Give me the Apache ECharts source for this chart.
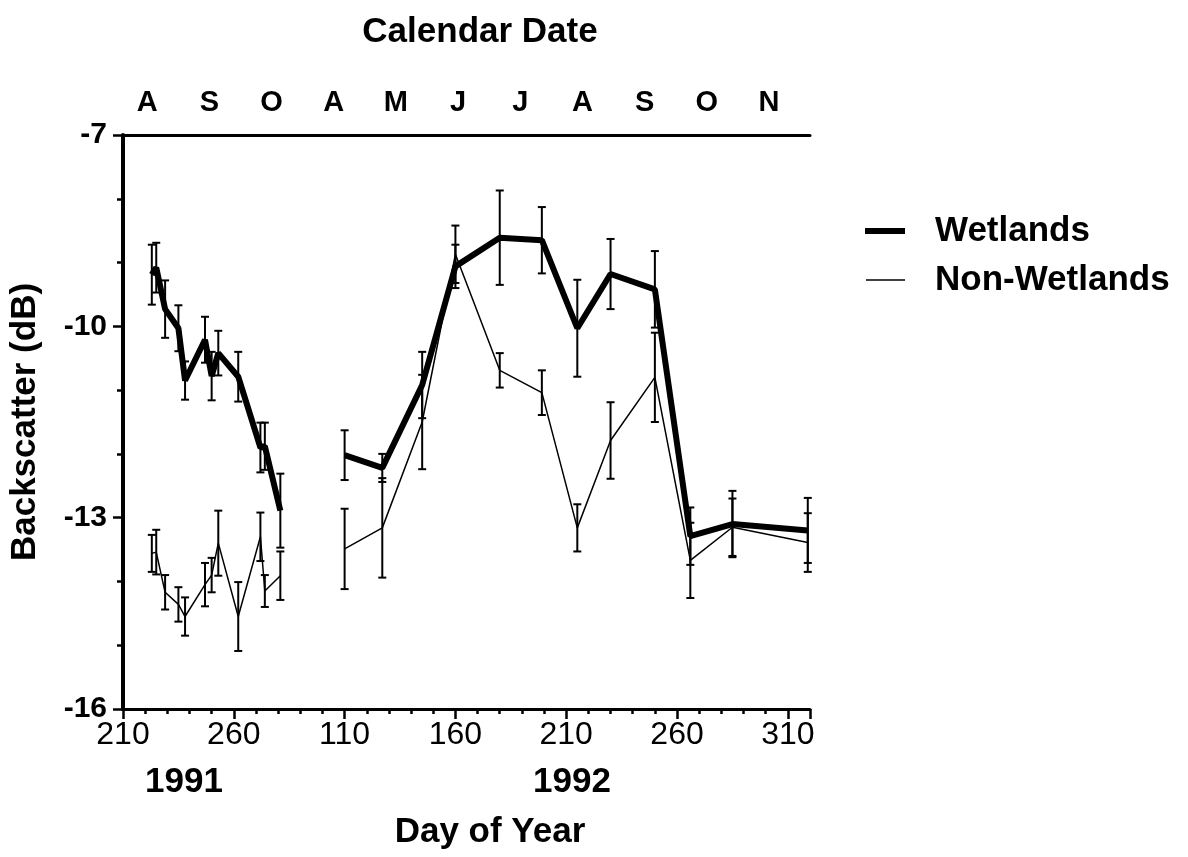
<!DOCTYPE html>
<html>
<head>
<meta charset="utf-8">
<script src="https://cdn.jsdelivr.net/npm/echarts@6/dist/echarts.min.js"></script>
<style>html,body{margin:0;padding:0;background:#fff}#c{width:1188px;height:857px}</style>
</head>
<body>
<div id="c"></div>
<script>
// ---- data ----
const days1991 = [223, 225, 229, 235, 238, 247, 250, 253, 262, 272, 274, 281];
const wet1991 = [-9.19, -9.08, -9.73, -10.03, -10.85, -10.21, -10.78, -10.42, -10.79, -11.90, -11.88, -12.89];
const wetErr1991 = [0.47, 0.39, 0.45, 0.36, 0.30, 0.36, 0.38, 0.35, 0.39, 0.39, 0.37, 0.58];
const non1991 = [-13.56, -13.54, -14.17, -14.36, -14.55, -14.05, -13.90, -13.40, -14.55, -13.30, -14.15, -13.91];
const nonErr1991 = [0.29, 0.35, 0.27, 0.27, 0.30, 0.34, 0.27, 0.51, 0.54, 0.38, 0.25, 0.38];

const days1992 = [110, 127, 145, 160, 180, 199, 215, 230, 250, 266, 285, 319];
const wet1992 = [-12.02, -12.22, -10.92, -9.06, -8.61, -8.65, -10.03, -9.18, -9.42, -13.29, -13.10, -13.20];
const wetErr1992 = [0.39, 0.22, 0.52, 0.34, 0.74, 0.52, 0.76, 0.55, 0.60, 0.45, 0.52, 0.51];
const non1992 = [-13.49, -13.16, -11.50, -8.87, -10.69, -11.04, -13.16, -11.79, -10.80, -13.67, -13.15, -13.39];
const nonErr1992 = [0.63, 0.78, 0.74, 0.45, 0.27, 0.35, 0.37, 0.60, 0.70, 0.59, 0.45, 0.46];

const monthLabels = ['A', 'S', 'O', 'A', 'M', 'J', 'J', 'A', 'S', 'O', 'N'];
const yMin = -16, yMax = -7, yStep = 3;
// continuous day axis: 1991 day d -> d-210 ; 1992 day d -> d-10 (1992 day 110 sits where 1991 day 310 would)
const OFF91 = -210, OFF92 = -10;

const toX = (d, off) => d + off;
const toY = v => v - yMin;
function linePts(days, vals, off) { return days.map((d, i) => [toX(d, off), toY(vals[i])]); }
function errPts(days, vals, errs, off) { return days.map((d, i) => [toX(d, off), toY(vals[i] - errs[i]), toY(vals[i] + errs[i])]); }

function errSeries(data, lw) {
  return {
    type: 'custom', silent: true, z: 2,
    data: data,
    encode: { x: 0, y: [1, 2] },
    renderItem: function (params, api) {
      const x = api.value(0), lo = api.value(1), hi = api.value(2);
      const p1 = api.coord([x, lo]), p2 = api.coord([x, hi]);
      const w = 4;
      const st = { stroke: '#000', lineWidth: lw };
      return {
        type: 'group', children: [
          { type: 'line', shape: { x1: p1[0], y1: p1[1], x2: p2[0], y2: p2[1] }, style: st },
          { type: 'line', shape: { x1: p1[0] - w, y1: p1[1], x2: p1[0] + w, y2: p1[1] }, style: st },
          { type: 'line', shape: { x1: p2[0] - w, y1: p2[1], x2: p2[0] + w, y2: p2[1] }, style: st }
        ]
      };
    }
  };
}
function lineSeries(name, data, width) {
  return {
    type: 'line', name: name, data: data, showSymbol: false, symbol: 'none',
    lineStyle: { color: '#000', width: width }, itemStyle: { color: '#000' }, z: 3
  };
}

const FONT = "'Liberation Sans', Arial, Helvetica, sans-serif";
const NARROW = "'Liberation Sans Narrow', 'Liberation Sans', Arial, sans-serif";

const chart = echarts.init(document.getElementById('c'), null, { renderer: 'canvas' });
chart.setOption({
  animation: false,
  backgroundColor: '#fff',
  title: [
    { text: 'Calendar Date', left: 475, top: 10, textAlign: 'center', textStyle: { fontFamily: FONT, fontSize: 35, fontWeight: 'bold', color: '#000' } },
    { text: 'Day of Year', left: 485, top: 810, textAlign: 'center', textStyle: { fontFamily: FONT, fontSize: 35, fontWeight: 'bold', color: '#000' } },
    { text: '1991', left: 179, top: 760, textAlign: 'center', textStyle: { fontFamily: FONT, fontSize: 35, fontWeight: 'bold', color: '#000' } },
    { text: '1992', left: 567, top: 760, textAlign: 'center', textStyle: { fontFamily: FONT, fontSize: 35, fontWeight: 'bold', color: '#000' } }
  ],
  legend: [
    { data: ['Wetlands'], left: 865, top: 211, padding: 0, icon: 'rect', itemWidth: 40, itemHeight: 6, selectedMode: false,
      textStyle: { fontFamily: FONT, fontSize: 35, fontWeight: 'bold', color: '#000', lineHeight: 40, padding: [0, 0, 0, 25] } },
    { data: ['Non-Wetlands'], left: 866, top: 260, padding: 0, icon: 'rect', itemWidth: 39, itemHeight: 1.5, selectedMode: false,
      textStyle: { fontFamily: FONT, fontSize: 35, fontWeight: 'bold', color: '#000', lineHeight: 40, padding: [0, 0, 0, 25] } }
  ],
  grid: { left: 122, right: 378, top: 135, bottom: 148, containLabel: false },
  xAxis: [
    {
      type: 'value', position: 'bottom', min: 0, max: 310, interval: 50,
      axisLine: { show: true, onZero: false, lineStyle: { color: '#000', width: 3 } },
      axisTick: { show: true, length: 10, lineStyle: { color: '#000', width: 2.5 } },
      minorTick: { show: true, splitNumber: 5, length: 5, lineStyle: { color: '#000', width: 2.5 } },
      splitLine: { show: false },
      axisLabel: { margin: 10, color: '#000', fontFamily: NARROW, fontSize: 32,
        formatter: v => String(v < 100 ? v - OFF91 : v - OFF92) }
    },
    {
      type: 'value', position: 'top', min: 0, max: 11.05,
      axisLine: { show: true, onZero: false, lineStyle: { color: '#000', width: 3 } },
      axisTick: { show: false }, splitLine: { show: false },
      axisLabel: { margin: 18, color: '#000', fontFamily: FONT, fontSize: 29, fontWeight: 'bold',
        customValues: monthLabels.map((m, i) => i + 0.39),
        formatter: v => monthLabels[Math.round(v - 0.39)] }
    }
  ],
  yAxis: {
    type: 'value', min: 0, max: yMax - yMin, interval: yStep,
    name: 'Backscatter (dB)', nameLocation: 'middle', nameGap: 80, nameRotate: 90,
    nameTextStyle: { fontFamily: FONT, fontSize: 35, fontWeight: 'bold', color: '#000' },
    axisLine: { show: true, onZero: false, lineStyle: { color: '#000', width: 4 } },
    axisTick: { show: true, length: 10, lineStyle: { color: '#000', width: 2.5 } },
    minorTick: { show: true, splitNumber: 3, length: 6, lineStyle: { color: '#000', width: 2.5 } },
    splitLine: { show: false },
    axisLabel: { margin: 16, color: '#000', fontFamily: FONT, fontSize: 30, fontWeight: 'bold',
      formatter: v => String(v + yMin) }
  },
  series: [
    errSeries(errPts(days1991, wet1991, wetErr1991, OFF91), 2),
    errSeries(errPts(days1992, wet1992, wetErr1992, OFF92), 2),
    errSeries(errPts(days1991, non1991, nonErr1991, OFF91), 2),
    errSeries(errPts(days1992, non1992, nonErr1992, OFF92), 2),
    lineSeries('Wetlands', linePts(days1991, wet1991, OFF91), 6),
    lineSeries('Wetlands', linePts(days1992, wet1992, OFF92), 6),
    lineSeries('Non-Wetlands', linePts(days1991, non1991, OFF91), 1.5),
    lineSeries('Non-Wetlands', linePts(days1992, non1992, OFF92), 1.5)
  ]
});
</script>
</body>
</html>
